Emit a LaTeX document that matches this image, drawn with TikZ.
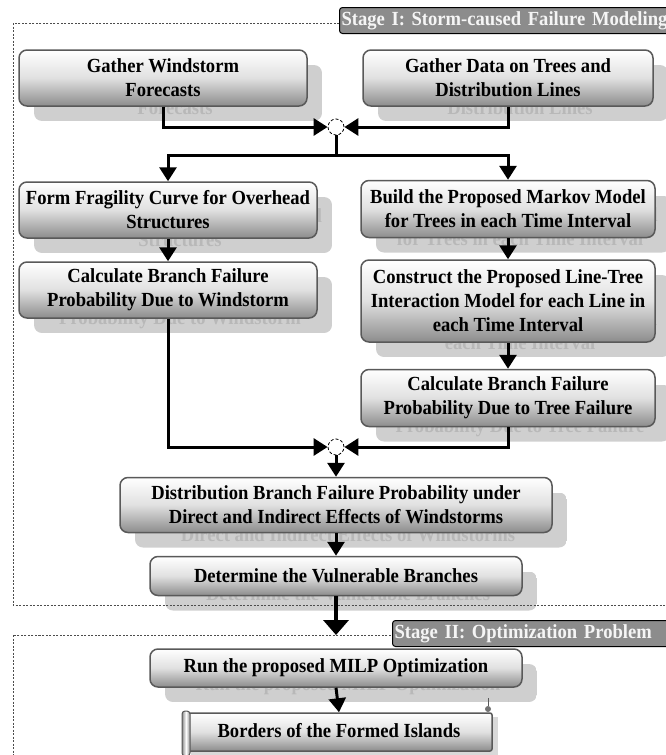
\documentclass[tikz,border=0pt]{standalone}
\usepackage{fontspec}
\setmainfont{Liberation Serif}[FakeStretch=0.93]
\usetikzlibrary{arrows.meta}
\newcommand{\boxfont}{\fontsize{20}{24}\selectfont\bfseries}
\begin{document}
\begin{tikzpicture}[x=1pt, y=-1pt, font=\boxfont, >={Triangle[width=17pt,length=14pt]},
	stepbox/.style={draw=black!65, line width=1.5pt, rounded corners=8pt, top color=white, bottom color=black!45, middle color=black!12, align=center, inner sep=2pt},
	ghost/.style={text=black!28, align=center},
	junc/.style={circle, draw, line width=0.8pt, dash pattern=on 3pt off 2pt, fill=white, minimum size=16pt, inner sep=0pt},
	conn/.style={line width=3pt, ->},
	frame/.style={draw=black!70, line width=0.6pt, dash pattern=on 2pt off 1.5pt},
	stagelabel/.style={draw, line width=1pt, fill=black!45, text=black!4, rounded corners=3pt, anchor=west, inner sep=2pt, minimum height=26pt, align=left}]
	\useasboundingbox (0,0) rectangle (665,755);
	\foreach \nm/\x/\y/\w/\h/\txt in {
		b1/163/78/288/56/{Gather Windstorm\\Forecasts},
		b2/508/78/290/56/{Gather Data on Trees and\\Distribution Lines},
		b3/168/210/298/56/{Form Fragility Curve for Overhead\\Structures},
		b4/168/290/298/56/{Calculate Branch Failure\\Probability Due to Windstorm},
		b5/508/209/294/57/{Build the Proposed Markov Model\\for Trees in each Time Interval},
		b6/508/301/294/82/{Construct the Proposed Line-Tree\\Interaction Model for each Line in\\each Time Interval},
		b7/508/398/294/57/{Calculate Branch Failure\\Probability Due to Tree Failure},
		b8/336/505/432/55/{Distribution Branch Failure Probability under\\Direct and Indirect Effects of Windstorms},
		b9/336/576/372/39/{Determine the Vulnerable Branches},
		b10/336/668/372/38/{Run the proposed MILP Optimization}}{
		\begin{scope}
			\clip[rounded corners=8pt] (\x-\w/2+15,\y-\h/2+15) rectangle ++(\w,\h);
			\fill[black!19] (\x-\w/2+15,\y-\h/2+15) rectangle ++(\w,\h);
			\node[ghost] at (\x+12,\y+18) {\txt};
		\end{scope}
		\node[stepbox, minimum width=\w, minimum height=\h] (\nm) at (\x,\y) {\txt};
	}
	\fill[black!15] (191,717) rectangle (498,757);
	\node[stepbox, rounded corners=2pt, minimum width=306, minimum height=38] (b11) at (339,732) {\raisebox{4pt}{Borders of the Formed Islands}};
	\draw[draw=black!65, line width=1pt, rounded corners=3pt, left color=black!45, right color=black!45, middle color=white] (182,711) rectangle (190,756);
	\draw[black!65, line width=1pt] (488,698) -- (488,706);
	\fill[black!55] (488,709) circle (3);
	\draw[frame] (13,23) rectangle (700,605);
	\draw[frame] (13,635) rectangle (700,800);
	\node[stagelabel, text width=335pt] (stageI) at (339,20.5) {Stage I: Storm-caused Failure Modeling};
	\node[stagelabel, text width=290pt] (stageII) at (392,633.5) {Stage II: Optimization Problem};
	\node[junc] (j1) at (336,127) {};
	\node[junc] (j2) at (336,447) {};
	\path (j1.south) ++(0,20) coordinate (split);
	\coordinate (stagetop) at (336,635);
	\draw[conn] (b1.south) |- (j1.west);
	\draw[conn] (b2.south) |- (j1.east);
	\draw[line width=3pt] (j1.south) -- (split);
	\draw[conn] (split) -| (b3.north);
	\draw[conn] (split) -| (b5.north);
	\foreach \a/\b in {b3/b4, b5/b6, b6/b7, b8/b9, b10/b11}{
		\draw[conn] (\a.south) -- (\b.north);
	}
	\draw[conn] (b4.south) |- (j2.west);
	\draw[conn] (b7.south) |- (j2.east);
	\draw[conn] (j2.south) -- (b8.north);
	\draw[line width=4pt, -{Triangle[width=25pt,length=15pt]}] (b9.south) -- (stagetop);
\end{tikzpicture}
\end{document}
